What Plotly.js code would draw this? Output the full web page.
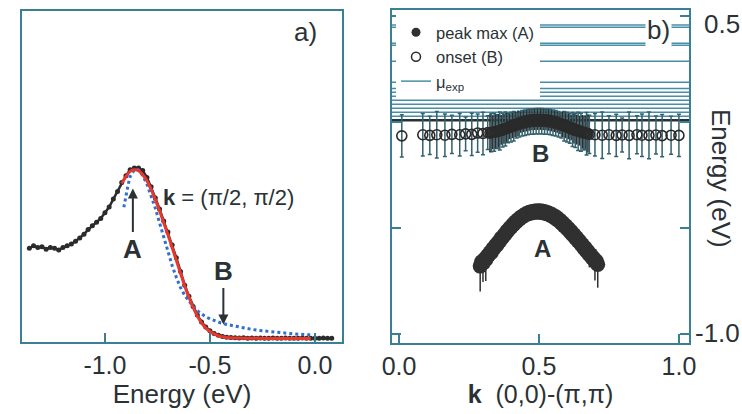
<!DOCTYPE html>
<html>
<head>
<meta charset="utf-8">
<script src="https://cdn.plot.ly/plotly-3.0.1.min.js"></script>
<style>html,body{margin:0;padding:0;background:#fff;}#chart{width:742px;height:414px;}</style>
</head>
<body>
<div id="chart"></div>
<script>
// ---------- panel a) : EDC at k = (pi/2, pi/2) ----------
var edcEnergy = [-1.36,-1.34,-1.32,-1.30,-1.28,-1.26,-1.24,-1.22,-1.20,-1.18,-1.16,-1.14,-1.12,-1.10,-1.08,-1.06,-1.04,-1.02,-1.00,-0.98,-0.96,-0.94,-0.92,-0.90,-0.88,-0.86,-0.84,-0.82,-0.80,-0.78,-0.76,-0.74,-0.72,-0.70,-0.68,-0.66,-0.64,-0.62,-0.60,-0.58,-0.56,-0.54,-0.52,-0.50,-0.48,-0.46,-0.44,-0.42,-0.40,-0.38,-0.36,-0.34,-0.32,-0.30,-0.28,-0.26,-0.24,-0.22,-0.20,-0.18,-0.16,-0.14,-0.12,-0.10,-0.08,-0.06,-0.04,-0.02,0.00,0.02,0.04,0.06,0.08];
var edcIntensity = [0.53,0.545,0.535,0.54,0.525,0.535,0.53,0.52,0.535,0.545,0.555,0.572,0.59,0.612,0.64,0.662,0.683,0.705,0.738,0.772,0.818,0.862,0.915,0.955,0.99,1.0,1.0,0.985,0.945,0.89,0.825,0.76,0.69,0.625,0.55,0.475,0.395,0.315,0.25,0.19,0.14,0.10,0.07,0.048,0.032,0.022,0.015,0.011,0.009,0.007,0.006,0.008,0.005,0.006,0.004,0.006,0.005,0.004,0.006,0.005,0.004,0.006,0.005,0.004,0.005,0.006,0.004,0.005,0.005,0.004,0.006,0.005,0.005];

var fitEnergy = [-0.92,-0.90,-0.88,-0.86,-0.84,-0.82,-0.80,-0.78,-0.76,-0.74,-0.72,-0.70,-0.68,-0.66,-0.64,-0.62,-0.60,-0.58,-0.56,-0.54,-0.52,-0.50,-0.48,-0.46,-0.44,-0.42,-0.40,-0.35,-0.30,-0.20,-0.10,-0.02];
var fitIntensity = [0.91,0.95,0.98,0.99,0.985,0.96,0.925,0.875,0.815,0.75,0.68,0.61,0.535,0.46,0.385,0.31,0.245,0.185,0.135,0.095,0.065,0.044,0.03,0.02,0.013,0.009,0.007,0.005,0.004,0.003,0.003,0.003];

var lorEnergy = [-0.91,-0.90,-0.89,-0.88,-0.86,-0.84,-0.82,-0.80,-0.78,-0.76,-0.74,-0.72,-0.70,-0.68,-0.66,-0.64,-0.62,-0.60,-0.58,-0.56,-0.54,-0.52,-0.50,-0.48,-0.45,-0.42,-0.38,-0.34,-0.30,-0.25,-0.20,-0.15,-0.10,-0.05,-0.02];
var lorIntensity = [0.77,0.84,0.90,0.95,0.99,0.99,0.955,0.905,0.84,0.765,0.68,0.595,0.51,0.43,0.36,0.30,0.255,0.22,0.19,0.165,0.145,0.13,0.118,0.108,0.095,0.085,0.074,0.064,0.056,0.048,0.041,0.035,0.030,0.026,0.024];

var aTicks = [-1.0,-0.5,0.0];
var aTickText = ['-1.0','-0.5','0.0'];

// ---------- panel b) : dispersion along (0,0)-(pi,pi) ----------
var kA = [0.29,0.30,0.31,0.32,0.33,0.34,0.35,0.36,0.37,0.38,0.39,0.40,0.41,0.42,0.43,0.44,0.45,0.46,0.47,0.48,0.49,0.50,0.51,0.52,0.53,0.54,0.55,0.56,0.57,0.58,0.59,0.60,0.61,0.62,0.63,0.64,0.65,0.66,0.67,0.68,0.69,0.70,0.71];
var eA = [-0.68,-0.665,-0.65,-0.63,-0.615,-0.595,-0.58,-0.562,-0.545,-0.528,-0.512,-0.497,-0.483,-0.47,-0.458,-0.448,-0.44,-0.434,-0.43,-0.427,-0.426,-0.426,-0.427,-0.43,-0.434,-0.44,-0.447,-0.456,-0.466,-0.478,-0.49,-0.503,-0.517,-0.532,-0.547,-0.562,-0.578,-0.594,-0.61,-0.626,-0.642,-0.658,-0.672];
var errAPlus = [0.05,0.04,0.05,0.03,0.03,0.03,0.02,0.02,0.02,0.02,0.02,0.02,0.02,0.02,0.02,0.02,0.02,0.02,0.02,0.02,0.02,0.02,0.02,0.02,0.02,0.02,0.02,0.02,0.02,0.02,0.02,0.02,0.02,0.02,0.02,0.02,0.02,0.03,0.03,0.03,0.04,0.05,0.05];
var errAMinus = [0.12,0.09,0.10,0.06,0.05,0.04,0.035,0.03,0.025,0.025,0.02,0.02,0.02,0.02,0.02,0.02,0.02,0.02,0.02,0.02,0.02,0.02,0.02,0.02,0.02,0.02,0.02,0.02,0.02,0.02,0.02,0.025,0.025,0.03,0.03,0.03,0.035,0.04,0.045,0.06,0.05,0.09,0.11];
// second, interleaved set of peak-max points
var kA2 = [0.295,0.305,0.315,0.325,0.335,0.345,0.355,0.365,0.375,0.385,0.395,0.405,0.415,0.425,0.435,0.445,0.455,0.465,0.475,0.485,0.495,0.505,0.515,0.525,0.535,0.545,0.555,0.565,0.575,0.585,0.595,0.605,0.615,0.625,0.635,0.645,0.655,0.665,0.675,0.685,0.695,0.705];
var eA2 = [-0.66,-0.648,-0.632,-0.616,-0.598,-0.582,-0.566,-0.548,-0.533,-0.516,-0.5,-0.486,-0.472,-0.46,-0.449,-0.44,-0.432,-0.426,-0.422,-0.42,-0.419,-0.419,-0.421,-0.424,-0.429,-0.435,-0.443,-0.452,-0.463,-0.475,-0.488,-0.502,-0.516,-0.531,-0.546,-0.562,-0.578,-0.594,-0.61,-0.626,-0.642,-0.656];

var kB = [0.01,0.085,0.11,0.135,0.164,0.189,0.217,0.238,0.26,0.281,0.30,0.317,0.33,0.34,0.35,0.36,0.37,0.38,0.39,0.40,0.41,0.42,0.43,0.44,0.45,0.46,0.47,0.48,0.49,0.50,0.51,0.52,0.53,0.54,0.55,0.56,0.57,0.58,0.59,0.60,0.61,0.62,0.63,0.64,0.65,0.66,0.67,0.68,0.70,0.726,0.75,0.776,0.797,0.822,0.85,0.868,0.893,0.918,0.94,0.972,1.0];
var eB = [-0.065,-0.060,-0.063,-0.060,-0.062,-0.058,-0.060,-0.056,-0.058,-0.052,-0.054,-0.050,-0.050,-0.048,-0.045,-0.042,-0.038,-0.033,-0.028,-0.024,-0.020,-0.015,-0.010,-0.006,-0.003,0.000,0.002,0.003,0.004,0.004,0.004,0.003,0.002,0.000,-0.003,-0.006,-0.010,-0.015,-0.020,-0.024,-0.030,-0.035,-0.040,-0.044,-0.048,-0.052,-0.055,-0.058,-0.060,-0.062,-0.060,-0.063,-0.061,-0.063,-0.060,-0.062,-0.063,-0.061,-0.064,-0.062,-0.063];
var errB = [0.10,0.10,0.09,0.11,0.10,0.09,0.10,0.08,0.10,0.09,0.10,0.08,0.09,0.09,0.08,0.09,0.08,0.08,0.07,0.07,0.07,0.06,0.06,0.06,0.06,0.06,0.06,0.06,0.06,0.06,0.06,0.06,0.06,0.06,0.06,0.06,0.06,0.06,0.07,0.07,0.07,0.08,0.08,0.09,0.09,0.08,0.10,0.09,0.10,0.11,0.09,0.10,0.08,0.11,0.09,0.10,0.11,0.09,0.10,0.09,0.10];
// second, interleaved set of onset points near the zone centre
var kB2 = [0.325,0.335,0.345,0.355,0.365,0.375,0.385,0.395,0.405,0.415,0.425,0.435,0.445,0.455,0.465,0.475,0.485,0.495,0.505,0.515,0.525,0.535,0.545,0.555,0.565,0.575,0.585,0.595,0.605,0.615,0.625,0.635,0.645,0.655,0.665,0.675];
var eB2 = [-0.052,-0.048,-0.045,-0.041,-0.037,-0.032,-0.027,-0.021,-0.016,-0.011,-0.006,-0.001,0.003,0.006,0.009,0.011,0.012,0.013,0.013,0.012,0.011,0.009,0.006,0.003,-0.001,-0.006,-0.011,-0.016,-0.021,-0.026,-0.031,-0.036,-0.041,-0.046,-0.05,-0.054];
var errB2 = [0.09,0.08,0.08,0.08,0.07,0.07,0.07,0.06,0.06,0.06,0.06,0.05,0.05,0.05,0.05,0.05,0.05,0.05,0.05,0.05,0.05,0.05,0.05,0.05,0.05,0.05,0.06,0.06,0.06,0.06,0.07,0.07,0.07,0.08,0.08,0.09];

var muExp = [0.458,0.448,0.372,0.363,0.287,0.188,0.159,0.141,0.122,0.103,0.084,0.065,0.046,0.027];
var muMain = [0.008];

var bXTicks = [0.0,0.5,1.0];
var bXTickText = ['0.0','0.5','1.0'];
var bYTicks = [-1.0,-0.5,0.0,0.5];

// ---------- build ----------
var TEAL = '#3a7f93';
var INK = '#2a3236';
var FONT = 'Liberation Sans, Arial, sans-serif';

function hLines(levels) {
  var xs = [], ys = [];
  levels.forEach(function (m) { xs.push(-0.1, 1.1, null); ys.push(m, m, null); });
  return {x: xs, y: ys};
}
var mu = hLines(muExp);
var muM = hLines(muMain);

var onsetMarker = {symbol: 'circle-open', size: 10, color: '#2a2a2a', line: {width: 1.6, color: '#2a2a2a'}};
var peakMarker = {symbol: 'circle', size: 15, color: '#303030'};

var traces = [
  // panel a
  {x: edcEnergy, y: edcIntensity, xaxis: 'x', yaxis: 'y', mode: 'lines+markers', showlegend: false,
   line: {color: '#2b2b2b', width: 2.5}, marker: {color: '#2b2b2b', size: 5}},
  {x: lorEnergy, y: lorIntensity, xaxis: 'x', yaxis: 'y', mode: 'lines', showlegend: false,
   line: {color: '#2f6fd0', width: 3, dash: 'dot'}},
  {x: fitEnergy, y: fitIntensity, xaxis: 'x', yaxis: 'y', mode: 'lines', showlegend: false,
   line: {color: '#e8382e', width: 3, shape: 'spline'}},
  // panel b
  {x: mu.x, y: mu.y, xaxis: 'x2', yaxis: 'y2', mode: 'lines', showlegend: false,
   line: {color: '#4a8ea6', width: 1.5}},
  {x: muM.x, y: muM.y, xaxis: 'x2', yaxis: 'y2', mode: 'lines', showlegend: false,
   line: {color: '#2b3133', width: 2.5}},
  {x: kB, y: eB, xaxis: 'x2', yaxis: 'y2', mode: 'markers', showlegend: false, marker: onsetMarker,
   error_y: {type: 'data', array: errB, color: '#33626f', thickness: 1.5, width: 2}},
  {x: kB2, y: eB2, xaxis: 'x2', yaxis: 'y2', mode: 'markers', showlegend: false, marker: onsetMarker,
   error_y: {type: 'data', array: errB2, color: '#2b2f31', thickness: 1.5, width: 0}},
  {x: kA, y: eA, xaxis: 'x2', yaxis: 'y2', mode: 'markers', showlegend: false, marker: peakMarker,
   error_y: {type: 'data', symmetric: false, array: errAPlus, arrayminus: errAMinus, color: '#303030', thickness: 1.5, width: 0}},
  {x: kA2, y: eA2, xaxis: 'x2', yaxis: 'y2', mode: 'markers', showlegend: false, marker: peakMarker},
  // legend entries
  {x: [null], y: [null], xaxis: 'x2', yaxis: 'y2', mode: 'markers', name: 'peak max (A)',
   marker: {symbol: 'circle', size: 9, color: '#303030'}},
  {x: [null], y: [null], xaxis: 'x2', yaxis: 'y2', mode: 'markers', name: 'onset (B)',
   marker: {symbol: 'circle-open', size: 9, color: '#2a2a2a', line: {width: 1.5}}},
  {x: [null], y: [null], xaxis: 'x2', yaxis: 'y2', mode: 'lines', name: '\u03bc<sub>exp</sub>',
   line: {color: '#4a8ea6', width: 1.5}}
];

var axisCommon = {showgrid: false, zeroline: false, showline: true, linecolor: TEAL, linewidth: 2,
  ticks: 'inside', ticklen: 9, tickwidth: 2, tickcolor: TEAL, tickfont: {family: FONT, size: 25, color: INK}};

function label(x, y, text, size, extra) {
  return Object.assign({xref: 'paper', yref: 'paper', x: x / 742, y: 1 - y / 414, text: text, showarrow: false,
    xanchor: 'center', yanchor: 'middle', font: {family: FONT, size: size, color: INK}}, extra || {});
}

var layout = {
  width: 742, height: 414,
  margin: {l: 0, r: 0, t: 0, b: 0},
  paper_bgcolor: '#fff', plot_bgcolor: '#fff',
  font: {family: FONT, color: INK},
  showlegend: true,
  legend: {x: 396/742, xanchor: 'left', y: 1 - 15/414, yanchor: 'top', bgcolor: '#fff', borderwidth: 0,
    font: {family: FONT, size: 16.5, color: INK}, tracegroupgap: 0},
  xaxis: Object.assign({}, axisCommon, {domain: [22/742, 342/742], range: [-1.395, 0.129], anchor: 'y',
    mirror: true, tickvals: aTicks, ticktext: aTickText,
    title: {text: 'Energy (eV)', font: {family: FONT, size: 26, color: INK}, standoff: 6}}),
  yaxis: Object.assign({}, axisCommon, {domain: [72/414, 403/414], range: [-0.0175, 1.918], anchor: 'x',
    mirror: true, ticks: '', showticklabels: false}),
  xaxis2: Object.assign({}, axisCommon, {domain: [392/742, 689/742], range: [-0.025, 1.036], anchor: 'y2',
    mirror: true, tickvals: bXTicks, ticktext: bXTickText,
    title: {text: '<b>k</b>  (0,0)-(\u03c0,\u03c0)', font: {family: FONT, size: 25, color: INK}, standoff: 6}}),
  yaxis2: Object.assign({}, axisCommon, {domain: [71/414, 404/414], range: [-1.043, 0.529], anchor: 'x2',
    mirror: 'ticks', tickvals: bYTicks, showticklabels: false}),
  annotations: [
    label(305, 32, 'a)', 26),
    {xref: 'x', yref: 'y', x: -0.41, y: 0.83, text: '<b>k</b> = (\u03c0/2, \u03c0/2)', showarrow: false,
     font: {family: FONT, size: 22, color: INK}},
    {xref: 'x', yref: 'y', x: -0.867, y: 0.88, ax: 0, ay: 60, text: '<b>A</b>', showarrow: true,
     arrowhead: 2, arrowsize: 1, arrowwidth: 2, arrowcolor: INK, standoff: 0,
     font: {family: FONT, size: 26, color: INK}},
    {xref: 'x', yref: 'y', x: -0.436, y: 0.085, ax: 0, ay: -53, text: '<b>B</b>', showarrow: true,
     arrowhead: 2, arrowsize: 1, arrowwidth: 2, arrowcolor: INK, standoff: 0,
     font: {family: FONT, size: 26, color: INK}},
    label(658, 30, 'b)', 26, {bgcolor: '#fff'}),
    {xref: 'x2', yref: 'y2', x: 0.505, y: -0.148, text: '<b>B</b>', showarrow: false,
     font: {family: FONT, size: 24, color: INK}},
    {xref: 'x2', yref: 'y2', x: 0.512, y: -0.598, text: '<b>A</b>', showarrow: false,
     font: {family: FONT, size: 24, color: INK}},
    label(722, 24, '0.5', 26),
    label(717, 333, '-1.0', 26),
    label(721, 178, 'Energy (eV)', 26, {textangle: 90})
  ]
};

Plotly.newPlot('chart', traces, layout, {staticPlot: true, displayModeBar: false});
</script>
</body>
</html>
